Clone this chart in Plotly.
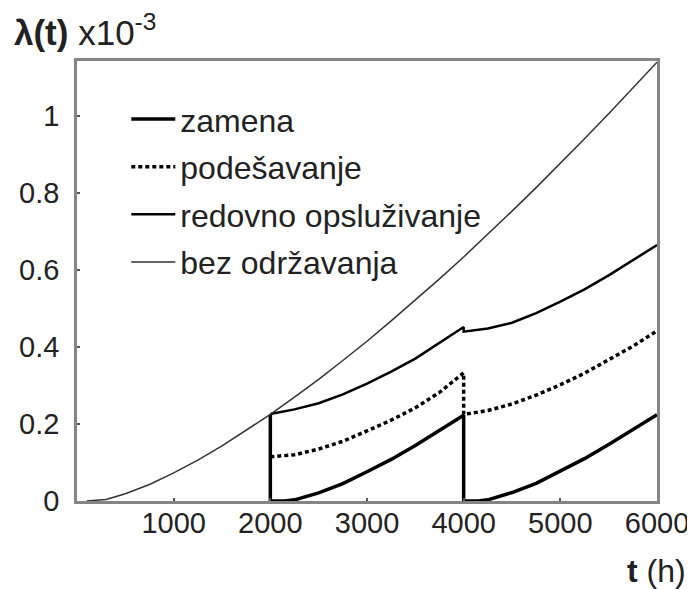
import plotly.graph_objects as go

# --- data (t in hours, lambda in 1e-3 units) ---
t_bez = [100, 300, 500, 750, 1000, 1250, 1500, 1750, 2000, 2250, 2500, 2750, 3000,
         3250, 3500, 3750, 4000, 4250, 4500, 4750, 5000, 5250, 5500, 5750, 6000]
lam_bez = [0.0, 0.004, 0.019, 0.043, 0.073, 0.106, 0.143, 0.183, 0.225, 0.27, 0.316,
           0.365, 0.415, 0.468, 0.522, 0.577, 0.634, 0.693, 0.753, 0.814, 0.877,
           0.941, 1.006, 1.073, 1.14]

t_zam = [2000, 2000, 2150, 2250, 2500, 2750, 3000, 3250, 3500, 3750, 4000,
         4000, 4150, 4250, 4500, 4750, 5000, 5250, 5500, 5750, 6000]
lam_zam = [0.225, 0.0, 0.0, 0.003, 0.021, 0.045, 0.076, 0.108, 0.144, 0.183, 0.223,
           0.0, 0.0, 0.003, 0.022, 0.046, 0.077, 0.11, 0.147, 0.185, 0.224]

t_pod = [2000, 2250, 2500, 2750, 3000, 3250, 3500, 3750, 4000,
         4000, 4250, 4500, 4750, 5000, 5250, 5500, 5750, 6000]
lam_pod = [0.115, 0.12, 0.135, 0.155, 0.182, 0.21, 0.242, 0.282, 0.333,
           0.225, 0.235, 0.252, 0.275, 0.302, 0.332, 0.366, 0.402, 0.442]

t_red = [2000, 2250, 2500, 2750, 3000, 3250, 3500, 3750, 4000,
         4000, 4250, 4500, 4750, 5000, 5250, 5500, 5750, 6000]
lam_red = [0.226, 0.238, 0.254, 0.277, 0.305, 0.336, 0.37, 0.41, 0.452,
           0.44, 0.448, 0.463, 0.488, 0.518, 0.55, 0.586, 0.625, 0.665]

x_ticks = [1000, 2000, 3000, 4000, 5000, 6000]
x_ticklabels = ["1000", "2000", "3000", "4000", "5000", "6000"]
y_ticks = [0, 0.2, 0.4, 0.6, 0.8, 1.0]
y_ticklabels = ["0", "0.2", "0.4", "0.6", "0.8", "1"]

names = ["zamena", "podešavanje", "redovno opsluživanje", "bez održavanja"]

FONT = "Liberation Sans, Arial, sans-serif"

fig = go.Figure()
fig.add_trace(go.Scatter(x=t_zam, y=lam_zam, mode="lines", name=names[0],
                         legendgroup="a",
                         line=dict(color="#000000", width=3.5)))
fig.add_trace(go.Scatter(x=t_pod, y=lam_pod, mode="lines", name=names[1],
                         legendgroup="b",
                         line=dict(color="#000000", width=3.5, dash="4px,3px")))
fig.add_trace(go.Scatter(x=t_red, y=lam_red, mode="lines", name=names[2],
                         legendgroup="c",
                         line=dict(color="#000000", width=2.5)))
fig.add_trace(go.Scatter(x=t_bez, y=lam_bez, mode="lines", name=names[3],
                         legendgroup="d",
                         line=dict(color="#333333", width=1.5)))

axis_common = dict(showgrid=False, zeroline=False, showline=True, mirror=True,
                   automargin=False,
                   linecolor="#858585", linewidth=2.5, ticks="inside", ticklen=3,
                   tickwidth=1.5, tickcolor="#555555",
                   tickfont=dict(family=FONT, size=29, color="#222222"))

# the page body adds an 8px margin, so the figure is 8px smaller than the window
fig.update_layout(
    width=687, height=581,
    margin=dict(l=69, r=38, t=53, b=88, autoexpand=False),
    paper_bgcolor="white", plot_bgcolor="white",
    font=dict(family=FONT, color="#222222"),
    xaxis=dict(range=[0, 6000], tickvals=x_ticks, ticktext=x_ticklabels,
               ticklabelstandoff=-6, **axis_common),
    yaxis=dict(range=[0, 1.143], tickvals=y_ticks, ticktext=y_ticklabels,
               ticklabelstandoff=9, **axis_common),
    legend=dict(x=0.085, y=0.93, xanchor="left", yanchor="top",
                bgcolor="rgba(0,0,0,0)", borderwidth=0,
                font=dict(family=FONT, size=32, color="#222222"),
                tracegroupgap=3, itemwidth=44, traceorder="grouped"),
    showlegend=True,
    annotations=[
        dict(text="<b>λ(t)</b> x10<sup>-3</sup>", xref="paper", yref="paper",
             x=-0.112, y=1.07, xanchor="left", yanchor="middle", showarrow=False,
             font=dict(family=FONT, size=35, color="#222222")),
        dict(text="<b>t</b> (h)", xref="paper", yref="paper",
             x=1.053, y=-0.159, xanchor="right", yanchor="middle", showarrow=False,
             font=dict(family=FONT, size=32, color="#222222")),
    ],
)

fig.write_html("out.html")
